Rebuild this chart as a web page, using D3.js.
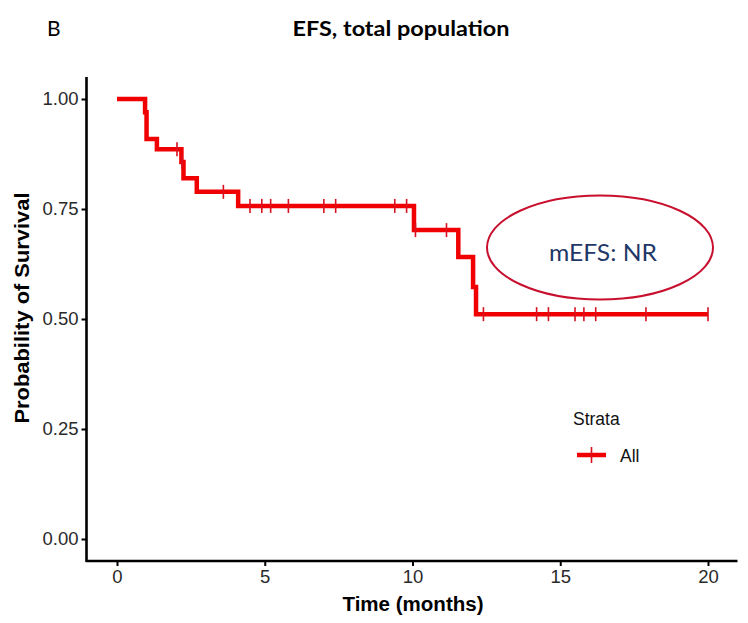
<!DOCTYPE html>
<html><head><meta charset="utf-8">
<script src="https://cdn.jsdelivr.net/npm/d3@7"></script>
<style>body{margin:0;background:#fff}</style>
</head><body>
<svg id="c" width="748" height="623"></svg>
<script>
// Kaplan-Meier step data (time in months, survival probability after each step)
const stepTimes = [0, 0.95, 1.0, 1.35, 2.18, 2.25, 2.7, 4.1, 10.05, 11.55, 12.05, 12.15];
const stepSurv  = [1.00, 0.97, 0.909, 0.886, 0.857, 0.82, 0.789, 0.757, 0.702, 0.641, 0.573, 0.511];
const endTime = 20;
const censorTimes = [2.03, 2.2, 3.6, 4.5, 4.9, 5.2, 5.8, 7.0, 7.4, 9.4, 9.8, 10.1, 11.15, 12.4, 14.2, 14.6, 15.5, 15.8, 16.2, 17.9, 20.0];
const xTicks = [0, 5, 10, 15, 20];
const yTicks = [0, 0.25, 0.5, 0.75, 1.0];
const legendLabels = ["All"];

const svg = d3.select("#c");
const x = d3.scaleLinear().domain([-1, 21]).range([87.45, 737.55]);
const y = d3.scaleLinear().domain([-0.05, 1.05]).range([561, 77]);
const red = "#f00000";
const sans = "'Liberation Sans', Arial, sans-serif";
const cal = "Lato, 'Open Sans', sans-serif";

function survAt(t){
  let s = stepSurv[0];
  for (let i=0;i<stepTimes.length;i++){ if (stepTimes[i] <= t) s = stepSurv[i]; }
  return s;
}

// axes
const gx = svg.append("g").attr("transform","translate(0,561)")
  .call(d3.axisBottom(x).tickValues(xTicks).tickSize(5).tickSizeOuter(0).tickPadding(4).tickFormat(d3.format("d")));
const gy = svg.append("g").attr("transform","translate(86.5,0)")
  .call(d3.axisLeft(y).tickValues(yTicks).tickSize(5).tickSizeOuter(0).tickPadding(3).tickFormat(d3.format(".2f")));
[gx,gy].forEach(g=>{
  g.select(".domain").attr("stroke","#000").attr("stroke-width",2.6);
  g.selectAll(".tick line").attr("stroke","#000").attr("stroke-width",2);
  g.selectAll(".tick text").attr("fill","#2a2a2a").style("font-family",sans).style("font-size","18.5px");
});
gx.select(".domain").attr("d", `M86,0H737.5`);
gy.select(".domain").attr("d", `M0,77V562`);

// KM line
const pts = stepTimes.map((t,i)=>[t, stepSurv[i]]);
pts.push([endTime, stepSurv[stepSurv.length-1]]);
const line = d3.line().x(d=>x(d[0])).y(d=>y(d[1])).curve(d3.curveStepAfter);
svg.append("path").datum(pts).attr("d", line).attr("fill","none")
  .attr("stroke", red).attr("stroke-width", 4.5).attr("stroke-linejoin","miter").attr("stroke-linecap","butt");

// censor marks
svg.append("g").selectAll("line").data(censorTimes).join("line")
  .attr("x1", d=>x(d)).attr("x2", d=>x(d))
  .attr("y1", d=>y(survAt(d))-7).attr("y2", d=>y(survAt(d))+7)
  .attr("stroke", "#d81020").attr("stroke-width", 1.6);

// annotation ellipse
svg.append("ellipse").attr("cx",600).attr("cy",247.5).attr("rx",113).attr("ry",52)
  .attr("fill","none").attr("stroke","#c8102e").attr("stroke-width",2);
svg.append("text").attr("x",603).attr("y",261).attr("text-anchor","middle")
  .attr("fill","#1f3868").style("font-family",cal).style("font-size","24px")
  .attr("textLength",108).attr("lengthAdjust","spacingAndGlyphs")
  .text("mEFS: NR");

// titles
svg.append("text").attr("x",47).attr("y",36).attr("fill","#000")
  .style("font-family",cal).style("font-size","21px").text("B");
svg.append("text").attr("x",401).attr("y",36).attr("text-anchor","middle").attr("fill","#000")
  .style("font-family",cal).style("font-size","21px").style("font-weight","bold")
  .attr("textLength",217).attr("lengthAdjust","spacingAndGlyphs")
  .text("EFS, total population");

// axis labels
svg.append("text").attr("x",413).attr("y",611).attr("text-anchor","middle").attr("fill","#000")
  .style("font-family",sans).style("font-size","19.5px").style("font-weight","bold")
  .attr("textLength",141).attr("lengthAdjust","spacingAndGlyphs")
  .text("Time (months)");
svg.append("text").attr("transform","translate(29,308) rotate(-90)").attr("text-anchor","middle").attr("fill","#000")
  .style("font-family",sans).style("font-size","19.5px").style("font-weight","bold")
  .attr("textLength",231).attr("lengthAdjust","spacingAndGlyphs")
  .text("Probability of Survival");

// legend
svg.append("text").attr("x",573).attr("y",425).attr("fill","#111")
  .style("font-family",sans).style("font-size","17.5px").text("Strata");
const lg = svg.append("g").selectAll("g").data(legendLabels).join("g");
lg.append("line").attr("x1",577).attr("x2",606).attr("y1",455).attr("y2",455).attr("stroke",red).attr("stroke-width",4.5);
lg.append("line").attr("x1",591.5).attr("x2",591.5).attr("y1",447).attr("y2",463).attr("stroke","#d81020").attr("stroke-width",1.6);
lg.append("text").attr("x",620).attr("y",462).attr("fill","#111")
  .style("font-family",sans).style("font-size","17.5px").text(d=>d);
</script>
</body></html>
